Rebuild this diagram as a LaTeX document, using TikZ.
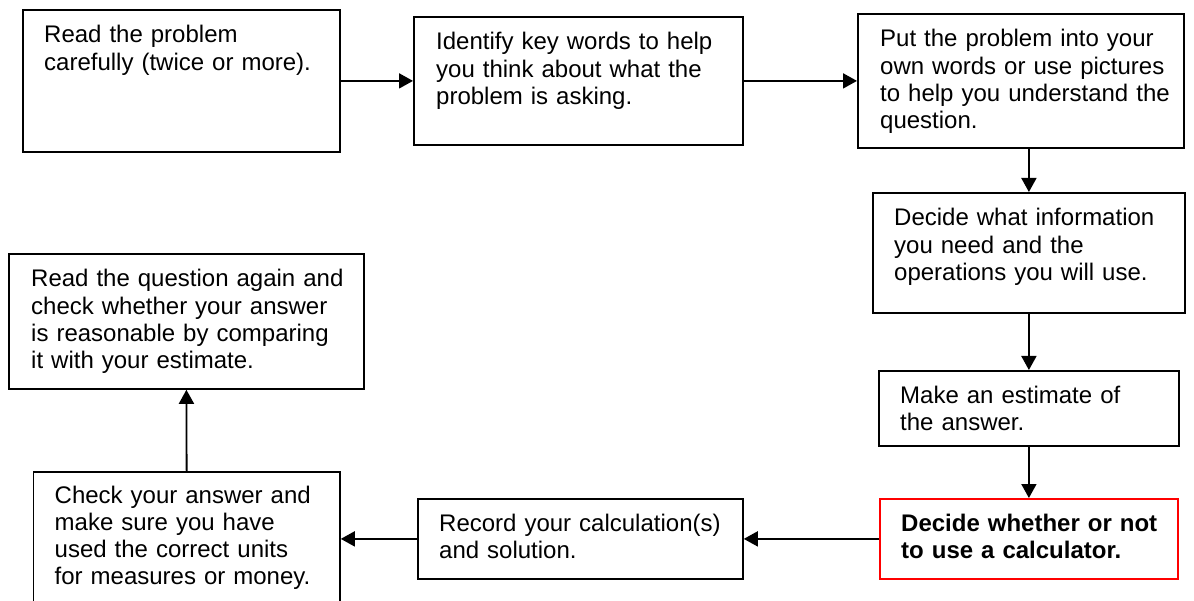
\documentclass[tikz,border=0pt]{standalone}
\usepackage{fontspec}
\setmainfont{Liberation Sans}
\usetikzlibrary{arrows.meta}
\tikzset{
  box/.style={draw, line width=1.8pt, inner sep=0pt, anchor=north west},
  redbox/.style={box, draw=red},
  txt/.style={inner sep=0pt, anchor=base west, align=left, font=\fontsize{24}{27.3}\selectfont},
  arr/.style={line width=1.8pt, -{Triangle[length=14pt,width=15pt]}}
}
\begin{document}
\begin{tikzpicture}[x=1pt,y=-1pt]
\useasboundingbox (0,0) rectangle (1194,601);
\clip (0,0) rectangle (1194,601);
% boxes
\node[box, minimum width=317pt, minimum height=142pt] (b1) at (22,9) {};
\node[box, minimum width=329pt, minimum height=128pt] (b2) at (413,16) {};
\node[box, minimum width=326pt, minimum height=134pt] (b3) at (857,13) {};
\node[box, minimum width=312pt, minimum height=120pt] (b4) at (872,192) {};
\node[box, minimum width=300pt, minimum height=75pt] (b5) at (878,370) {};
\node[redbox, minimum width=298pt, minimum height=80pt] (b6) at (879,498) {};
\node[box, minimum width=325pt, minimum height=80pt] (b7) at (417,498) {};
\node[box, minimum width=306.5pt, minimum height=134pt] (b8) at (32.5,471) {};
\node[box, minimum width=355pt, minimum height=135pt] (b9) at (8,253) {};
% texts
\node[txt, text width=291pt] (t1) at ([xshift=22pt,yshift=-34pt]b1.north west) {Read the problem\\carefully (twice or more).};
\node[txt, text width=303pt] (t2) at ([xshift=23pt,yshift=-34pt]b2.north west) {Identify key words to help\\you think about what the\\problem is asking.};
\node[txt, text width=300pt] (t3) at ([xshift=23pt,yshift=-34pt]b3.north west) {Put the problem into your\\own words or use pictures\\to help you understand the\\question.};
\node[txt, text width=286pt] (t4) at ([xshift=22pt,yshift=-34pt]b4.north west) {Decide what information\\you need and the\\operations you will use.};
\node[txt, text width=274pt] (t5) at ([xshift=22pt,yshift=-33pt]b5.north west) {Make an estimate of\\the answer.};
\node[txt, text width=272pt, font=\fontsize{24}{27.3}\selectfont\bfseries] (t6) at ([xshift=22pt,yshift=-33pt]b6.north west) {Decide whether or not\\to use a calculator.};
\node[txt, text width=299pt] (t7) at ([xshift=22pt,yshift=-33pt]b7.north west) {Record your calculation(s)\\and solution.};
\node[txt, text width=280pt] (t8) at ([xshift=22pt,yshift=-32pt]b8.north west) {Check your answer and\\make sure you have\\used the correct units\\for measures or money.};
\node[txt, text width=329pt] (t9) at ([xshift=23pt,yshift=-34pt]b9.north west) {Read the question again and\\check whether your answer\\is reasonable by comparing\\it with your estimate.};
% connectors
\draw[arr] (b1.east) -- (b2.west);
\draw[arr] (b2.east) -- (b3.west);
\draw[arr] (b3.south -| b4.north) -- (b4.north);
\draw[arr] (b4.south) -- (b5.north);
\draw[arr] (b5.south) -- (b6.north);
\draw[arr] (b6.west) -- (b7.east);
\draw[arr] (b7.west) -- (b8.east);
\draw[arr] (b8.north) -- (b9.south);
\end{tikzpicture}
\end{document}
